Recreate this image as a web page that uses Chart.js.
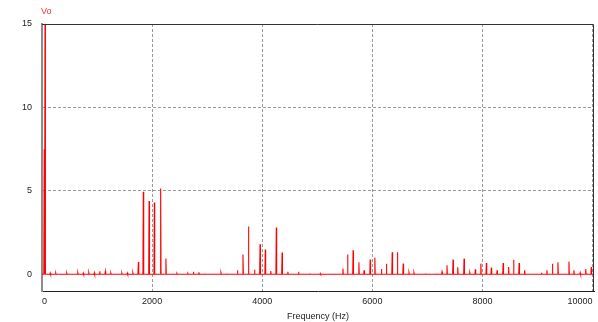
<!DOCTYPE html>
<html>
<head>
<meta charset="utf-8">
<script src="https://cdn.jsdelivr.net/npm/chart.js@4.4.1/dist/chart.umd.min.js"></script>
<style>
  html, body { margin: 0; padding: 0; background: #fff; }
</style>
</head>
<body>
<canvas id="spectrum" width="598" height="322"></canvas>
<script>
// Spectrum peaks (frequency in Hz, amplitude in V)
const peakHz = [
  40, 55, 150, 250, 450, 650, 750, 850, 950, 1050, 1150, 1250, 1450, 1550, 1650,
  1750, 1840, 1945, 2040, 2155, 2250, 2450, 2650, 2750, 2850, 2950, 3250, 3350,
  3550, 3650, 3750, 3860, 3960, 4055, 4155, 4255, 4360, 4465, 4660, 4860, 5055,
  5465, 5550, 5650, 5755, 5850, 5960, 6045, 6165, 6255, 6360, 6455, 6560, 6665,
  6755, 6965, 7165, 7265, 7355, 7465, 7550, 7665, 7770, 7870, 7970, 8070, 8160,
  8265, 8375, 8475, 8565, 8665, 8765, 9070, 9170, 9270, 9370, 9570, 9660, 9775,
  9875, 9975
];
const peakVolts = [
  7.5, 16, 0.08, 0.08, 0.08, 0.1, 0.08, 0.1, 0.1, 0.18, 0.18, 0.08, 0.08, 0.08, 0.1,
  0.74, 4.94, 4.4, 4.3, 5.14, 0.95, 0.05, 0.05, 0.15, 0.12, 0.05, 0.1, 0.05,
  0.24, 1.18, 2.86, 0.28, 1.8, 1.48, 0.2, 2.8, 1.3, 0.15, 0.15, 0.05, 0.05,
  0.34, 1.18, 1.44, 0.72, 0.24, 0.88, 1.0, 0.32, 0.64, 1.32, 1.32, 0.64, 0.1,
  0.1, 0.05, 0.05, 0.15, 0.54, 0.88, 0.42, 0.94, 0.1, 0.3, 0.64, 0.68, 0.4,
  0.24, 0.68, 0.44, 0.88, 0.68, 0.24, 0.1, 0.24, 0.64, 0.72, 0.76, 0.24, 0.1,
  0.32, 0.44
];

// Axis ticks
const xTicks = [0, 2000, 4000, 6000, 8000, 10000];
const yTicks = [0, 5, 10, 15];
const xMax = 10025;

// Line through the baseline with a narrow spike at every peak
const points = [{ x: 0, y: 0 }];
peakHz.forEach((f, i) => {
  points.push({ x: f - 7, y: 0 }, { x: f, y: peakVolts[i] }, { x: f + 7, y: 0 });
});
points.push({ x: xMax, y: 0 });

const font = { family: '"Liberation Sans", Arial, sans-serif', size: 9 };

// Top/right frame and the "Vo" trace label
const framePlugin = {
  id: 'frame',
  afterDraw(chart) {
    const { ctx, chartArea: a } = chart;
    ctx.save();
    ctx.strokeStyle = '#333';
    ctx.lineWidth = 1;
    ctx.beginPath();
    ctx.moveTo(a.left, a.top + 0.5);
    ctx.lineTo(a.right - 0.5, a.top + 0.5);
    ctx.lineTo(a.right - 0.5, a.bottom);
    ctx.stroke();
    ctx.fillStyle = '#ff3030';
    ctx.font = '9px "Liberation Sans", Arial, sans-serif';
    ctx.textBaseline = 'middle';
    ctx.fillText('Vo', a.left - 1, 12);
    ctx.restore();
  }
};

new Chart(document.getElementById('spectrum').getContext('2d'), {
  type: 'line',
  data: {
    datasets: [{
      label: 'Vo',
      data: points,
      borderColor: '#ff0000',
      borderWidth: 1.1,
      pointRadius: 0,
      tension: 0
    }]
  },
  options: {
    responsive: false,
    animation: false,
    layout: { padding: { top: 24, right: 4, left: 0, bottom: 0 } },
    plugins: {
      legend: { display: false },
      tooltip: { enabled: false }
    },
    scales: {
      x: {
        type: 'linear',
        min: 0,
        max: xMax,
        afterBuildTicks: s => { s.ticks = xTicks.map(v => ({ value: v })); },
        afterFit: s => { s.height = 31; },
        ticks: { align: 'inner', padding: 5, color: '#222', font: font, callback: v => String(v) },
        grid: {
          drawTicks: false,
          color: c => (c.tick && c.tick.value === 0) ? 'rgba(0,0,0,0)' : '#999'
        },
        border: { color: '#222', width: 1, dash: [3, 2] },
        title: {
          display: true,
          text: 'Frequency (Hz)',
          color: '#222',
          font: font,
          padding: { top: 0, bottom: 0 }
        }
      },
      y: {
        min: -1,
        max: 15,
        afterBuildTicks: s => { s.ticks = yTicks.map(v => ({ value: v })); },
        afterFit: s => { s.width = 42; },
        ticks: { padding: 10, color: '#222', font: font, callback: v => String(v) },
        grid: {
          drawTicks: false,
          color: c => (c.tick && (c.tick.value === 0 || c.tick.value === 15)) ? 'rgba(0,0,0,0)' : '#999'
        },
        border: { color: '#8c8c8c', width: 2, dash: [3, 2] }
      }
    }
  },
  plugins: [framePlugin]
});
</script>
</body>
</html>
